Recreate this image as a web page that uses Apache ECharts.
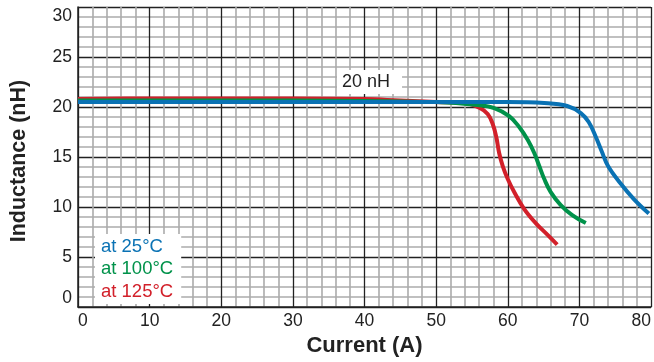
<!DOCTYPE html>
<html>
<head>
<meta charset="utf-8">
<script src="https://cdn.jsdelivr.net/npm/echarts@6/dist/echarts.min.js"></script>
<style>html,body{margin:0;padding:0;background:#fff}#c{width:654px;height:362px}</style>
</head>
<body>
<div id="c"></div>
<script>
var seriesNames = ['at 25°C', 'at 100°C', 'at 125°C'];
var seriesColors = ['#0a72b4', '#00924a', '#d2202a'];
var blue25 = [[0,20.5],[10,20.5],[20,20.5],[30,20.5],[40,20.5],[50,20.5],[60,20.5],[65.1,20.4],[68.3,20.1],[70.2,19.4],[71.3,18.5],[72.3,17.0],[73.1,15.6],[74.0,14.1],[75.7,12.4],[77.6,10.8],[79.7,9.35]];
var green100 = [[0,20.65],[10,20.65],[20,20.65],[30,20.65],[40,20.6],[45,20.55],[50,20.5],[55.8,20.2],[58.1,19.9],[60.2,19.1],[61.6,18.0],[62.8,16.7],[63.7,15.4],[64.4,14.1],[65.1,12.8],[66.0,11.5],[67.4,10.2],[69.0,9.2],[70.9,8.4]];
var red125 = [[0,20.8],[10,20.85],[20,20.85],[30,20.85],[40,20.8],[45,20.65],[50,20.5],[54,20.4],[56.1,19.9],[57.2,19.3],[57.9,18.3],[58.4,17.0],[58.8,15.4],[59.3,14.1],[60.0,12.8],[60.9,11.5],[62.3,9.8],[63.9,8.4],[65.6,7.2],[66.9,6.25]];
var xTicks = {min: 0, max: 80, interval: 10};
var yTicks = {min: 0, max: 30, interval: 5};
var annotation = '20 nH';

var chart = echarts.init(document.getElementById('c'));
var font = 'Liberation Sans, Arial, Helvetica, sans-serif';
function mk(name, color, data) {
  return {name: name, type: 'line', data: data, smooth: 0.4, symbol: 'none',
    lineStyle: {color: color, width: 4}, itemStyle: {color: color}, z: 3};
}
chart.setOption({
  animation: false,
  textStyle: {fontFamily: font},
  grid: {left: 78, right: 0, top: 7, bottom: 48, containLabel: false},
  xAxis: {
    type: 'value', min: xTicks.min, max: xTicks.max, interval: xTicks.interval,
    name: 'Current (A)', nameLocation: 'middle', nameGap: 22,
    nameTextStyle: {fontSize: 22, fontWeight: 'bold', color: '#222', fontFamily: font},
    axisLine: {show: true, lineStyle: {color: '#222', width: 1.5}},
    axisTick: {show: false},
    axisLabel: {fontSize: 17.5, color: '#222', margin: 5, alignMinLabel: 'left', alignMaxLabel: 'right', fontFamily: font},
    splitLine: {show: true, lineStyle: {color: '#222', width: 1.3}},
    minorTick: {show: false, splitNumber: 5},
    minorSplitLine: {show: true, lineStyle: {color: '#ababab', width: 1.6}}
  },
  yAxis: {
    type: 'value', min: yTicks.min, max: yTicks.max, interval: yTicks.interval,
    name: 'Inductance (nH)', nameLocation: 'middle', nameGap: 48,
    nameTextStyle: {fontSize: 21.5, fontWeight: 'bold', color: '#222', fontFamily: font, padding: [0, 8, 0, 0]},
    axisLine: {show: true, lineStyle: {color: '#222', width: 1.5}},
    axisTick: {show: false},
    axisLabel: {fontSize: 17.5, color: '#222', margin: 6, fontFamily: font,
      verticalAlignMinLabel: 'bottom', verticalAlignMaxLabel: 'top'},
    splitLine: {show: true, lineStyle: {color: '#222', width: 1.3}},
    minorTick: {show: false, splitNumber: 5},
    minorSplitLine: {show: true, lineStyle: {color: '#ababab', width: 1.6}}
  },
  legend: {
    orient: 'vertical', left: 95, top: 234,
    backgroundColor: '#fff', padding: [3, 8, 3, 1], itemGap: 3.5,
    itemWidth: 0, itemHeight: 0, selectedMode: false,
    data: [
      {name: seriesNames[0], icon: 'rect', textStyle: {color: seriesColors[0]}},
      {name: seriesNames[1], icon: 'rect', textStyle: {color: seriesColors[1]}},
      {name: seriesNames[2], icon: 'rect', textStyle: {color: seriesColors[2]}}
    ],
    textStyle: {fontSize: 18.5, fontFamily: font}
  },
  graphic: [{
    type: 'text', left: 337, top: 70, z: 10,
    style: {text: annotation, fontSize: 18, fontFamily: font, fill: '#222',
      backgroundColor: '#fff', padding: [3, 12, 3, 5]}
  }],
  series: [
    mk(seriesNames[2], seriesColors[2], red125),
    mk(seriesNames[1], seriesColors[1], green100),
    mk(seriesNames[0], seriesColors[0], blue25)
  ]
});
</script>
</body>
</html>
